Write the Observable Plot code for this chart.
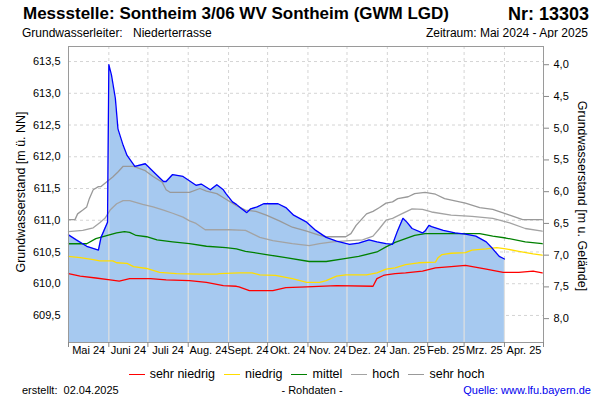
<!DOCTYPE html>
<html><head><meta charset="utf-8">
<script src="https://cdn.jsdelivr.net/npm/d3@7"></script>
<script src="https://cdn.jsdelivr.net/npm/@observablehq/plot@0.6"></script>
<style>
body{margin:0;background:#fff;font-family:"Liberation Sans",Arial,sans-serif;}
#wrap{position:relative;width:600px;height:400px;overflow:hidden;background:#fff;}
.t{position:absolute;white-space:nowrap;color:#000;line-height:1;}
.leg{position:absolute;left:2px;width:600px;top:367px;display:flex;justify-content:center;align-items:center;font-size:12.5px;}
.leg span.s{display:inline-block;width:16px;height:0;border-top:1.5px solid;margin:0 5px 0 9px;}
</style></head><body>
<div id="wrap">
  <div class="t" style="left:23px;top:5px;font-size:17px;font-weight:bold;">Messstelle: Sontheim 3/06 WV Sontheim (GWM LGD)</div>
  <div class="t" style="right:11px;top:5px;font-size:18px;font-weight:bold;">Nr: 13303</div>
  <div class="t" style="left:22px;top:27px;font-size:12px;">Grundwasserleiter:</div>
  <div class="t" style="left:133px;top:27px;font-size:12px;">Niederterrasse</div>
  <div class="t" style="right:12px;top:27px;font-size:12px;">Zeitraum: Mai 2024 - Apr 2025</div>
  <div id="chart" style="position:absolute;left:0;top:38px;"></div>
  <div class="t" style="left:21px;top:192px;font-size:12.5px;transform:translate(-50%,-50%) rotate(-90deg);">Grundwasserstand [m ü. NN]</div>
  <div class="t" style="left:582px;top:196px;font-size:12.5px;transform:translate(-50%,-50%) rotate(90deg);">Grundwasserstand [m u. Gelände]</div>
  <div class="leg" id="legend"></div>
  <div class="t" style="left:22px;top:385px;font-size:11px;">erstellt:&nbsp;&nbsp;02.04.2025</div>
  <div class="t" style="left:312px;top:385px;font-size:11px;transform:translateX(-50%);">- Rohdaten -</div>
  <div class="t" style="right:9px;top:385px;font-size:11px;color:#0000ee;">Quelle: www.lfu.bayern.de</div>
</div>
<script>
// ---- Daten ----
const messDatum = ["2024-05-01","2024-05-07","2024-05-15","2024-05-24","2024-05-26","2024-05-31","2024-06-01","2024-06-03","2024-06-06","2024-06-08","2024-06-12","2024-06-15","2024-06-21","2024-06-29","2024-07-08","2024-07-13","2024-07-15","2024-07-20","2024-07-28","2024-08-07","2024-08-11","2024-08-18","2024-08-23","2024-08-28","2024-08-30","2024-09-04","2024-09-07","2024-09-11","2024-09-15","2024-09-18","2024-09-23","2024-09-28","2024-10-09","2024-10-15","2024-10-21","2024-10-31","2024-11-07","2024-11-15","2024-11-23","2024-12-03","2024-12-10","2024-12-18","2024-12-24","2024-12-31","2025-01-05","2025-01-09","2025-01-13","2025-01-16","2025-01-20","2025-01-28","2025-01-30","2025-02-02","2025-02-04","2025-02-13","2025-02-22","2025-03-02","2025-03-10","2025-03-18","2025-03-23","2025-03-28","2025-04-01"];
const messWert = [610.77,610.69,610.59,610.53,610.73,610.97,613.45,613.29,612.92,612.44,612.18,612.02,611.85,611.89,611.71,611.61,611.61,611.72,611.69,611.55,611.57,611.48,611.56,611.48,611.42,611.29,611.25,611.18,611.12,611.18,611.21,611.26,611.26,611.20,611.08,610.97,610.84,610.73,610.67,610.62,610.64,610.69,610.66,610.63,610.62,610.84,611.03,610.97,610.87,610.80,610.83,610.92,610.90,610.84,610.80,610.78,610.75,610.66,610.55,610.43,610.39];

const sehrHochDatum = ["2024-05-01","2024-05-06","2024-05-08","2024-05-12","2024-05-15","2024-05-17","2024-05-20","2024-05-24","2024-05-26","2024-05-30","2024-06-04","2024-06-08","2024-06-12","2024-06-20","2024-06-29","2024-07-05","2024-07-12","2024-07-15","2024-07-18","2024-07-26","2024-08-02","2024-08-10","2024-08-15","2024-08-23","2024-08-30","2024-09-07","2024-09-14","2024-09-22","2024-09-30","2024-10-10","2024-10-20","2024-10-31","2024-11-10","2024-11-15","2024-11-30","2024-12-04","2024-12-08","2024-12-12","2024-12-16","2024-12-21","2024-12-26","2024-12-31","2025-01-05","2025-01-09","2025-01-17","2025-01-22","2025-01-30","2025-02-07","2025-02-14","2025-03-02","2025-03-13","2025-03-23","2025-04-05","2025-04-15","2025-04-30"];
const sehrHochWert = [611.01,611.01,611.10,611.16,611.21,611.34,611.48,611.53,611.53,611.60,611.68,611.76,611.85,611.85,611.78,611.69,611.60,611.48,611.44,611.44,611.44,611.50,611.46,611.42,611.33,611.23,611.16,611.14,611.08,610.99,610.89,610.83,610.76,610.74,610.74,610.79,610.92,611.01,611.10,611.14,611.20,611.27,611.29,611.34,611.37,611.42,611.44,611.41,611.34,611.27,611.20,611.17,611.08,611.01,611.01];

const hochDatum = ["2024-05-01","2024-05-12","2024-05-20","2024-05-25","2024-05-29","2024-06-02","2024-06-07","2024-06-12","2024-06-17","2024-06-27","2024-07-05","2024-07-13","2024-07-20","2024-07-28","2024-08-02","2024-08-07","2024-08-14","2024-09-02","2024-09-14","2024-09-25","2024-10-05","2024-10-20","2024-11-02","2024-11-10","2024-11-20","2024-12-03","2024-12-13","2024-12-21","2024-12-26","2024-12-31","2025-01-05","2025-01-12","2025-01-20","2025-01-28","2025-02-04","2025-02-19","2025-03-07","2025-03-23","2025-04-05","2025-04-17","2025-04-30"];
const hochWert = [610.82,610.84,610.88,610.96,611.03,611.16,611.26,611.31,611.31,611.25,611.21,611.16,611.11,611.05,610.99,610.95,610.85,610.85,610.84,610.73,610.68,610.63,610.60,610.63,610.66,610.68,610.69,610.75,610.87,611.00,611.03,611.10,611.18,611.17,611.13,611.08,611.06,611.03,610.96,610.87,610.83];

const mittelDatum = ["2024-05-01","2024-05-15","2024-05-22","2024-05-31","2024-06-07","2024-06-13","2024-06-17","2024-06-22","2024-06-30","2024-07-08","2024-07-20","2024-08-02","2024-08-15","2024-08-30","2024-09-07","2024-09-14","2024-09-30","2024-10-15","2024-11-02","2024-11-15","2024-11-28","2024-12-10","2024-12-24","2024-12-31","2025-01-07","2025-01-15","2025-01-22","2025-01-30","2025-03-13","2025-03-23","2025-04-02","2025-04-17","2025-04-30"];
const mittelWert = [610.63,610.63,610.71,610.76,610.80,610.82,610.81,610.76,610.74,610.69,610.66,610.63,610.59,610.57,610.55,610.51,610.46,610.41,610.35,610.35,610.39,610.43,610.50,610.58,610.65,610.71,610.76,610.79,610.79,610.75,610.72,610.66,610.63];

const niedrigDatum = ["2024-05-01","2024-05-10","2024-05-20","2024-05-25","2024-06-04","2024-06-07","2024-06-15","2024-06-20","2024-06-30","2024-07-10","2024-07-23","2024-08-10","2024-08-23","2024-08-25","2024-09-09","2024-09-19","2024-09-25","2024-10-07","2024-10-20","2024-10-31","2024-11-10","2024-11-15","2024-11-23","2024-11-30","2024-12-16","2024-12-24","2024-12-31","2025-01-07","2025-01-10","2025-01-15","2025-01-25","2025-02-07","2025-02-09","2025-02-12","2025-02-19","2025-03-02","2025-03-07","2025-03-18","2025-03-26","2025-04-02","2025-04-12","2025-04-23","2025-04-30"];
const niedrigWert = [610.43,610.41,610.38,610.36,610.36,610.33,610.32,610.27,610.24,610.18,610.16,610.15,610.15,610.16,610.17,610.17,610.14,610.13,610.08,610.02,610.02,610.05,610.12,610.14,610.14,610.17,610.23,610.25,610.27,610.30,610.33,610.34,610.41,610.46,610.48,610.49,610.53,610.55,610.57,610.55,610.51,610.47,610.45];

const sehrNiedrigDatum = ["2024-05-01","2024-05-10","2024-05-22","2024-06-02","2024-06-09","2024-06-17","2024-07-03","2024-07-15","2024-08-02","2024-08-15","2024-08-28","2024-09-07","2024-09-09","2024-09-17","2024-10-05","2024-10-15","2024-10-31","2024-11-23","2024-12-21","2024-12-24","2024-12-29","2024-12-31","2025-01-07","2025-01-15","2025-01-28","2025-02-07","2025-02-19","2025-03-02","2025-03-18","2025-03-31","2025-04-12","2025-04-23","2025-04-30"];
const sehrNiedrigWert = [610.16,610.12,610.09,610.06,610.04,610.08,610.08,610.06,610.05,610.02,609.97,609.96,609.95,609.89,609.89,609.94,609.95,609.97,609.96,610.08,610.13,610.14,610.16,610.17,610.20,610.25,610.27,610.29,610.23,610.18,610.18,610.20,610.17];

const monatLabels = ["Mai 24","Juni 24","Juli 24","Aug. 24","Sept. 24","Okt. 24","Nov. 24","Dez. 24","Jan. 25","Feb. 25","Mrz. 25","Apr. 25"];
const nnTicks = [609.5,610.0,610.5,611.0,611.5,612.0,612.5,613.0,613.5];
const tiefeTicks = [4.0,4.5,5.0,5.5,6.0,6.5,7.0,7.5,8.0];
const gelaende = 617.45;   // Geländehöhe m ü. NN
const zeitraum = ["2024-05-01","2025-05-01"];
const yBereich = [609.074, 613.737];

// ---- Aufbereitung ----
const parse = d3.utcParse("%Y-%m-%d");
const toRows = (ds, vs) => ds.map((d, i) => ({date: parse(d), value: vs[i]}));
const mess = toRows(messDatum, messWert);
const reihen = [
  {name: "sehr hoch", color: "#999999", rows: toRows(sehrHochDatum, sehrHochWert)},
  {name: "hoch", color: "#a3a3a3", rows: toRows(hochDatum, hochWert)},
  {name: "mittel", color: "#008000", rows: toRows(mittelDatum, mittelWert)},
  {name: "niedrig", color: "#ffdd00", rows: toRows(niedrigDatum, niedrigWert)},
  {name: "sehr niedrig", color: "#ff0000", rows: toRows(sehrNiedrigDatum, sehrNiedrigWert)}
];
const x0 = parse(zeitraum[0]), x1 = parse(zeitraum[1]);
const monthStarts = d3.utcMonth.range(x0, d3.utcDay.offset(x1, 1));
const midMonths = monthStarts.slice(0, -1).map((m, i) => new Date((+m + +monthStarts[i + 1]) / 2));
const fmt = v => v.toFixed(1).replace(".", ",");

// value of measured line at month boundaries (for the light rules over the area)
const bis = d3.bisector(d => d.date).left;
function interp(t) {
  const i = bis(mess, t);
  if (i <= 0) return mess[0].value;
  if (i >= mess.length) return null;
  const a = mess[i - 1], b = mess[i];
  const f = (t - a.date) / (b.date - a.date);
  return a.value + f * (b.value - a.value);
}
const lastMess = mess[mess.length - 1].date;
const rulesOver = monthStarts.filter(m => m > x0 && m <= lastMess).map(m => ({date: m, value: +m === +lastMess ? mess[mess.length-1].value : interp(m)}));

const lineMarks = reihen.slice().reverse().map(r =>
  Plot.line(r.rows, {x: "date", y: "value", stroke: r.color, strokeWidth: 1.3}));

const chart = Plot.plot({
  width: 600, height: 324,
  marginTop: 8, marginBottom: 20, marginLeft: 68, marginRight: 57,
  style: {fontFamily: "'Liberation Sans', Arial, sans-serif", fontSize: "11px", background: "white", color: "#000"},
  x: {type: "utc", domain: [x0, x1]},
  y: {domain: yBereich},
  marks: [
    Plot.gridY(nnTicks, {stroke: "#d4d4d4", strokeOpacity: 1, strokeDasharray: "3,3"}),
    Plot.gridX(monthStarts, {stroke: "#d4d4d4", strokeOpacity: 1, strokeDasharray: "3,3"}),
    Plot.areaY(mess, {x: "date", y1: yBereich[0], y2: "value", fill: "#a6c9f0"}),
    Plot.ruleX(rulesOver, {x: "date", y1: yBereich[0], y2: "value", stroke: "#e0e0e0", strokeWidth: 1.2}),
    ...lineMarks,
    Plot.line(mess, {x: "date", y: "value", stroke: "#0000ff", strokeWidth: 1.3}),
    Plot.frame({stroke: "#9a9a9a"}),
    Plot.axisY(nnTicks, {anchor: "left", tickSize: 0, tickPadding: 8, tickFormat: fmt, label: null, fontSize: 11}),
    Plot.axisY(tiefeTicks.map(t => gelaende - t), {anchor: "right", tickSize: 5, stroke: "#888", tickPadding: 5, tickFormat: v => fmt(gelaende - v), label: null, fontSize: 11}),
    Plot.axisX(monthStarts, {tickSize: 5, stroke: "#888", tickFormat: () => "", label: null}),
    Plot.axisX(midMonths, {tickSize: 0, tickPadding: 4, tickFormat: d => monatLabels[midMonths.findIndex(m => +m === +d)], label: null, fontSize: 11})
  ]
});
document.getElementById("chart").appendChild(chart);

// legend
const leg = document.getElementById("legend");
["sehr niedrig","niedrig","mittel","hoch","sehr hoch"].forEach(n => {
  const r = reihen.find(s => s.name === n);
  const s = document.createElement("span"); s.className = "s"; s.style.borderTopColor = r.color;
  const t = document.createElement("span"); t.textContent = n;
  leg.appendChild(s); leg.appendChild(t);
});
</script>
</body></html>
